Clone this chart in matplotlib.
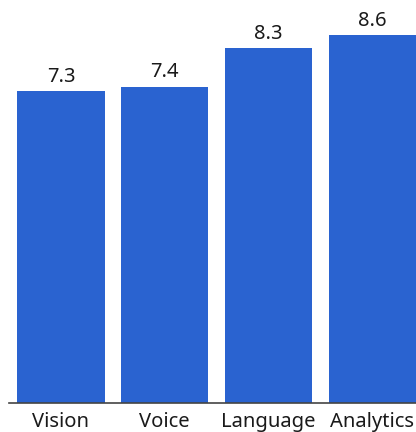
import matplotlib
matplotlib.use('Agg')
import matplotlib.pyplot as plt

categories = ['Vision', 'Voice', 'Language', 'Analytics']
scores = [7.3, 7.4, 8.3, 8.6]
value_labels = ['7.3', '7.4', '8.3', '8.6']

BAR_COLOR = '#2a63d0'

def main():
    plt.rcParams.update({'font.family': ['Noto Sans', 'DejaVu Sans']})
    fig = plt.figure(figsize=(4.16, 4.32), dpi=100)
    ax = fig.add_axes([9 / 416, 29 / 432, 407 / 416, 403 / 432])
    xs = list(range(len(categories)))
    bars = ax.bar(xs, scores, width=0.84, color=BAR_COLOR)
    for b, lab in zip(bars, value_labels):
        ax.text(b.get_x() + b.get_width() / 2, b.get_height() + 0.1, lab,
                ha='center', va='bottom', fontsize=14.5, color='#1a1a1a')
    ax.set_xlim(-0.5, 3.42)
    ax.set_ylim(0, 9.43)
    ax.set_xticks(xs)
    ax.set_xticklabels(categories, fontsize=14.5, color='#1a1a1a')
    ax.tick_params(axis='x', length=0, pad=6.5)
    ax.set_yticks([])
    for s in ['top', 'right', 'left']:
        ax.spines[s].set_visible(False)
    ax.spines['bottom'].set_color('#444444')
    ax.spines['bottom'].set_linewidth(1.2)
    fig.savefig('out.png', dpi=100)

if __name__ == '__main__':
    main()
